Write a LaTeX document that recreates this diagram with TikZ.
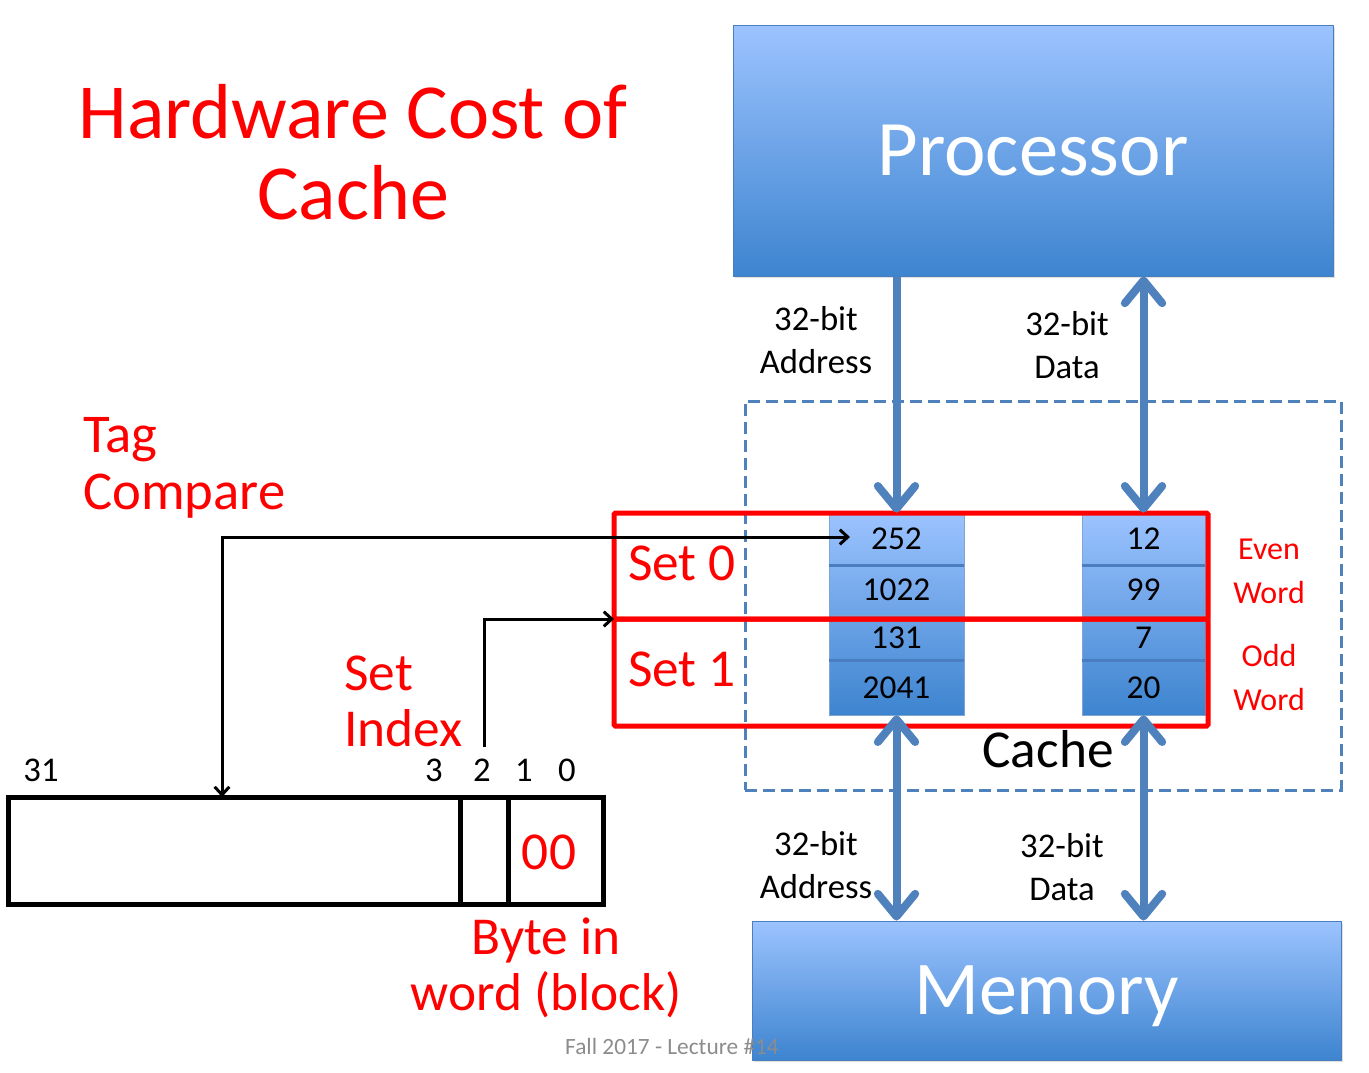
\documentclass[tikz,border=0pt]{standalone}
\usepackage{fontspec}
\setmainfont{Carlito}
\usetikzlibrary{arrows.meta,shadows}

\definecolor{boxtop}{HTML}{9CC3FF}
\definecolor{boxbot}{HTML}{3D84CF}
\definecolor{boxline}{HTML}{4A7EC0}
\definecolor{busblue}{HTML}{4F81BD}
\definecolor{slidered}{HTML}{FF0000}
\definecolor{footgray}{HTML}{8C8C8C}

\newcommand{\fsz}[2]{\fontsize{#1}{#2}\selectfont}

\tikzset{
  blockbox/.style={draw=boxline, line width=0.75pt, top color=boxtop, bottom color=boxbot,
    text=white, inner sep=0pt, text depth=0pt,
    drop shadow={opacity=0.25, shadow xshift=1.5pt, shadow yshift=-1.5pt}},
  cell/.style={draw=boxline!70, line width=0.5pt, inner sep=0pt, font=\fsz{25}{25}},
  setbox/.style={draw=slidered, line width=3.75pt, rounded corners=1pt, outer sep=0pt,
    minimum width=445.5pt, inner sep=0pt},
  field/.style={draw=black, line width=3.75pt, minimum height=80.25pt, inner sep=0pt, outer sep=0pt},
  redtext/.style={text=slidered, inner sep=0pt},
  plain/.style={inner sep=0pt},
  bus/.style={draw=busblue, line width=6pt, >={Straight Barb[length=17pt,width=28pt,round]}},
  sig/.style={draw=black, line width=2.25pt, >={Straight Barb[length=6pt,width=11pt]}},
}

\begin{document}
\begin{tikzpicture}[
      x = 0.75pt,
      y = -0.75pt,
  ]
  \useasboundingbox (0,0) rectangle (1369,1072);

  % cache outline
  \node[draw=busblue, line width=2.25pt, dash pattern=on 9pt off 4.5pt,
        minimum width=447pt, minimum height=291.75pt, inner sep=0pt] (cachebox) at (1043,595.5) {};

  % processor and memory
  \node[blockbox, minimum width=450pt, minimum height=188.25pt, font=\fsz{59}{59}] (proc) at (1033,150.5) {Processor};
  \node[blockbox, minimum width=441.75pt, minimum height=104.25pt, font=\fsz{57}{57}] (mem) at (1046.5,990.5) {Memory};

  % cache entries, tag column and data column
  \node[cell, minimum width=101.25pt, minimum height=39pt, top color=boxtop, bottom color=boxbot!26!boxtop] (c252) at (896.5,539) {252};
  \node[cell, minimum width=101.25pt, minimum height=37.5pt, top color=boxbot!26!boxtop, bottom color=boxbot!50!boxtop] (c1022) at (896.5,590) {1022};
  \node[cell, minimum width=101.25pt, minimum height=33.75pt, top color=boxbot!50!boxtop, bottom color=boxbot!73!boxtop] (c131) at (896.5,637.5) {131};
  \node[cell, minimum width=101.25pt, minimum height=41.25pt, top color=boxbot!73!boxtop, bottom color=boxbot] (c2041) at (896.5,687.5) {2041};

  \node[cell, minimum width=92.25pt, minimum height=39pt, top color=boxtop, bottom color=boxbot!26!boxtop] (c12) at (1143.5,539) {12};
  \node[cell, minimum width=92.25pt, minimum height=37.5pt, top color=boxbot!26!boxtop, bottom color=boxbot!50!boxtop] (c99) at (1143.5,590) {99};
  \node[cell, minimum width=92.25pt, minimum height=33.75pt, top color=boxbot!50!boxtop, bottom color=boxbot!73!boxtop] (c7) at (1143.5,637.5) {7};
  \node[cell, minimum width=92.25pt, minimum height=41.25pt, top color=boxbot!73!boxtop, bottom color=boxbot] (c20) at (1143.5,687.5) {20};

  \draw[boxline, line width=2.5pt] (c252.south west) -- (c252.south east);
  \draw[boxline, line width=2.5pt] (c131.south west) -- (c131.south east);
  \draw[boxline, line width=2.5pt] (c12.south west) -- (c12.south east);
  \draw[boxline, line width=2.5pt] (c7.south west) -- (c7.south east);

  % sets
  \node[setbox, minimum height=79.5pt] (set0) at (911,566) {};
  \node[setbox, minimum height=80.25pt] (set1) at (911,672.5) {};
  \node[redtext, font=\fsz{40}{40}] (lset0) at (682,563) {Set 0};
  \node[redtext, font=\fsz{40}{40}] (lset1) at (682,669) {Set 1};
  \node[redtext, align=center, font=\fsz{24}{33}] (evenw) at (1269,571) {Even\\Word};
  \node[redtext, align=center, font=\fsz{24}{33}] (oddw) at (1269,677) {Odd\\Word};
  \node[plain, font=\fsz{40}{40}] (cachelbl) at (1048,749) {Cache};

  % buses
  \draw[bus,->] (proc.south -| c252.north) -- (c252.north);
  \draw[bus,<->] (proc.south -| c12.north) -- (c12.north);
  \draw[bus,<->] (c2041.south) -- (c2041.south |- mem.north);
  \draw[bus,<->] (c20.south) -- (c20.south |- mem.north);

  \node[plain, align=center, font=\fsz{26}{32}] (addrup) at (816,340) {32-bit\\Address};
  \node[plain, align=center, font=\fsz{26}{32}] (dataup) at (1067,345) {32-bit\\Data};
  \node[plain, align=center, font=\fsz{26}{32}] (addrdn) at (816,865) {32-bit\\Address};
  \node[plain, align=center, font=\fsz{26}{32}] (datadn) at (1062,867) {32-bit\\Data};

  % address fields
  \node[field, minimum width=339pt] (tagf) at (234,850.5) {};
  \node[field, minimum width=36pt] (idxf) at (484,850.5) {};
  \node[field, minimum width=71.25pt] (bytef) at (555.5,850.5) {};
  \node[redtext, font=\fsz{40}{40}] (zeros) at (549,852) {00};

  \foreach \b/\x in {31/41, 3/434, 2/482, 1/524, 0/567}
    \node[plain, font=\fsz{26}{26}] (bit\b) at (\x,770) {\b};

  \coordinate (tagtap) at (222,797);
  \coordinate (tagtip) at (850,537);
  \coordinate (idxtap) at (484,747);
  \draw[sig,<->] (tagtap) |- (tagtip);
  \draw[sig,->] (idxtap) |- (set1.north west);

  % labels
  \node[redtext, align=center, font=\fsz{58.5}{61}] (title) at (353,152) {Hardware Cost of\\Cache};
  \node[redtext, align=left, anchor=west, font=\fsz{41}{43}] (tagcmp) at (83,468) {Tag\\Compare};
  \node[redtext, align=left, anchor=west, font=\fsz{40}{42}] (setidx) at (344,701) {Set\\Index};
  \node[redtext, align=center, font=\fsz{40}{42}] (byteblk) at (546,968) {Byte in\\word (block)};

  \node[text=footgray, inner sep=0pt, font=\fsz{17.5}{18}] (footer) at (672,1046) {Fall 2017 - Lecture \#14};

\end{tikzpicture}
\end{document}
